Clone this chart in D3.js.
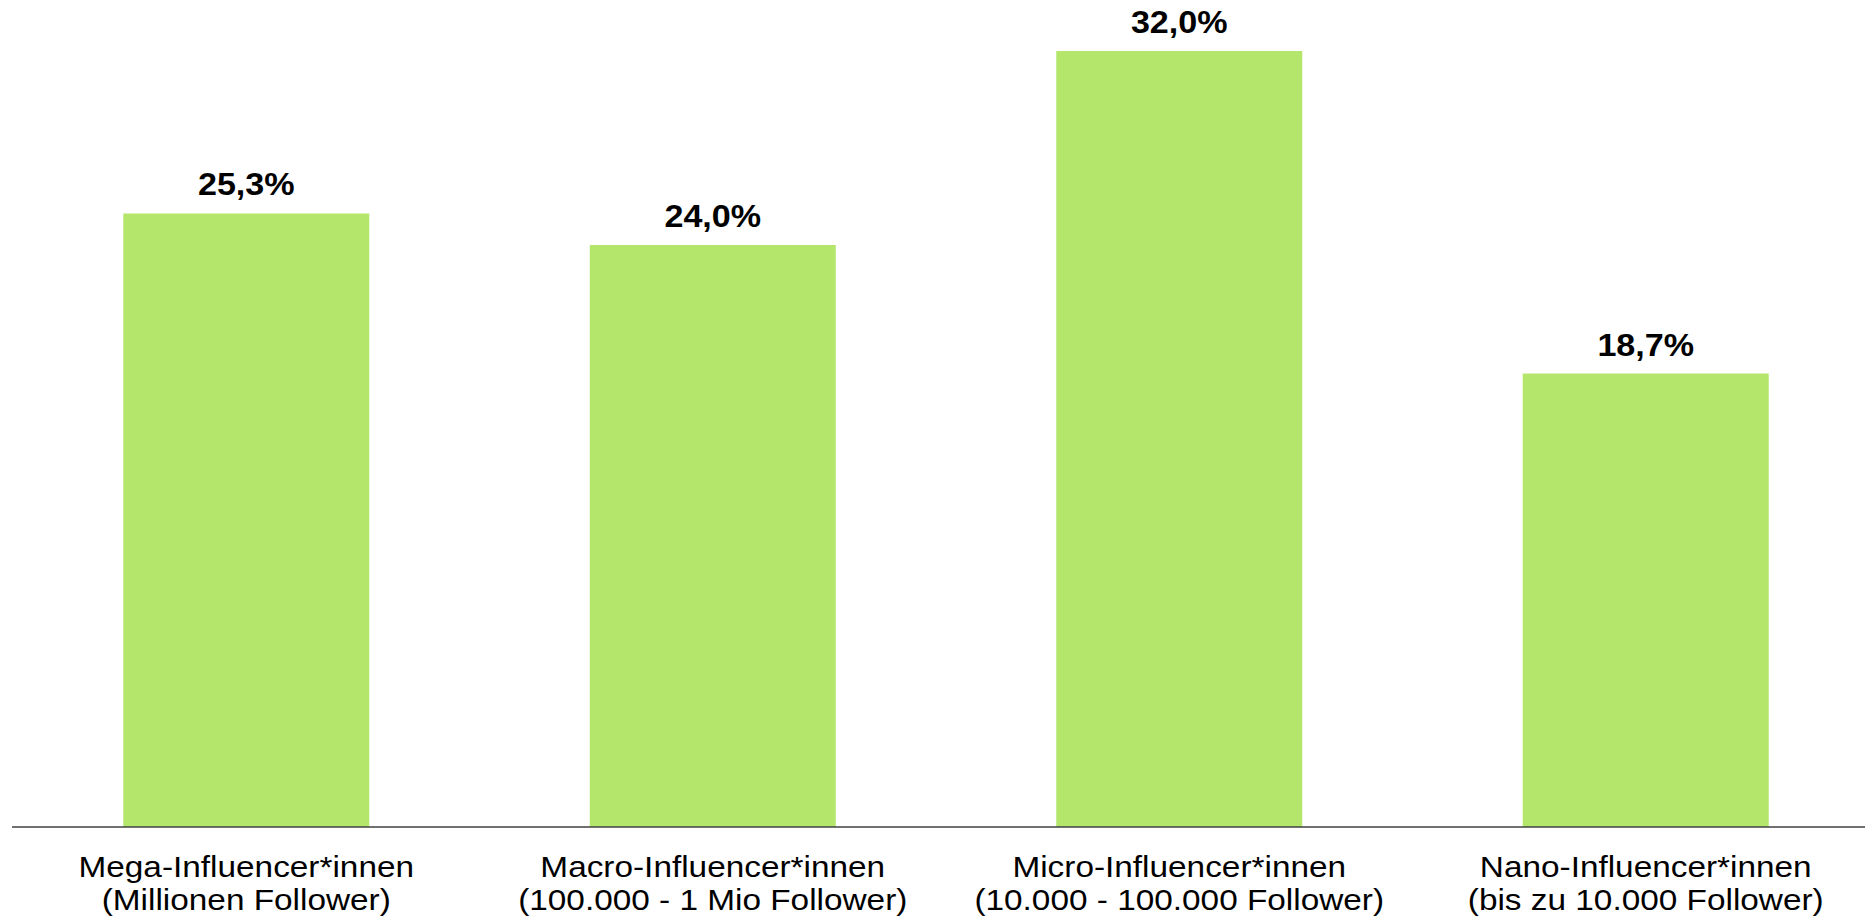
<!DOCTYPE html>
<html>
<head>
<meta charset="utf-8">
<script src="https://cdn.jsdelivr.net/npm/d3@7"></script>
<style>
  body { margin: 0; background: #fff; }
  svg { display: block; font-family: "Liberation Sans", Arial, sans-serif; }
</style>
</head>
<body>
<div id="chart-area"></div>
<script>
// data
var categories = ["Mega-Influencer*innen", "Macro-Influencer*innen", "Micro-Influencer*innen", "Nano-Influencer*innen"];
var subLabels = ["(Millionen Follower)", "(100.000 - 1 Mio Follower)", "(10.000 - 100.000 Follower)", "(bis zu 10.000 Follower)"];
var shares = [25.3, 24.0, 32.0, 18.7];

var width = 1865,
    height = 921,
    baseY = 827;

var svg = d3.select("#chart-area").append("svg")
    .attr("width", width)
    .attr("height", height);

var data = categories.map(function(c, i) {
    return { cat: c, sub: subLabels[i], value: shares[i] };
});

// x scale
var xScale = d3.scaleBand()
    .domain(categories)
    .range([13, 1879])
    .paddingInner(0.4727)
    .paddingOuter(0.2364);

// y scale
var yScale = d3.scaleLinear()
    .domain([0, 32])
    .range([baseY, 51]);

function cx(d) { return xScale(d.cat) + xScale.bandwidth() / 2; }

// bars
svg.selectAll(".bar")
    .data(data)
    .enter()
    .append("rect")
    .attr("class", "bar")
    .attr("x", function(d) { return xScale(d.cat); })
    .attr("y", function(d) { return yScale(d.value); })
    .attr("width", xScale.bandwidth())
    .attr("height", function(d) { return baseY - yScale(d.value); })
    .style("fill", "#b3e66b");

// baseline
var xAxis = d3.axisBottom(xScale).tickSize(0).tickFormat("");
var axisG = svg.append("g")
    .attr("transform", "translate(0," + baseY + ")")
    .call(xAxis);
axisG.select(".domain").remove();
axisG.append("line")
    .attr("x1", 12)
    .attr("x2", width)
    .attr("stroke", "#404040")
    .attr("stroke-width", 1.3);

// category labels (two lines), font in the original is a bit wider
var lbl = svg.selectAll(".cat-label")
    .data(data)
    .enter()
    .append("text")
    .attr("class", "cat-label")
    .attr("transform", function(d) { return "translate(" + cx(d) + ",0) scale(1.15,1)"; })
    .attr("text-anchor", "middle")
    .style("font-size", "29px")
    .style("fill", "#000");
lbl.append("tspan")
    .attr("x", 0)
    .attr("y", 877)
    .text(function(d) { return d.cat; });
lbl.append("tspan")
    .attr("x", 0)
    .attr("y", 910)
    .text(function(d) { return d.sub; });

// value labels
svg.selectAll(".val-label")
    .data(data)
    .enter()
    .append("text")
    .attr("class", "val-label")
    .attr("transform", function(d) { return "translate(" + cx(d) + "," + (yScale(d.value) - 18) + ") scale(1.1,1)"; })
    .attr("text-anchor", "middle")
    .style("font-size", "31px")
    .style("font-weight", "bold")
    .style("fill", "#000")
    .text(function(d) { return d.value.toFixed(1).replace(".", ",") + "%"; });
</script>
</body>
</html>
